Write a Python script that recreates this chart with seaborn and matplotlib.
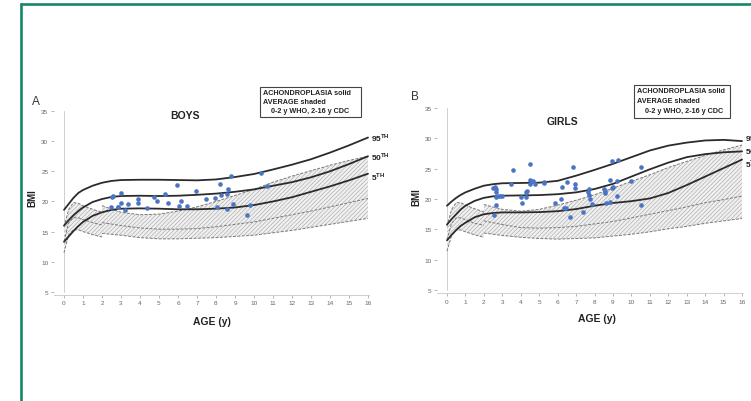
import matplotlib
matplotlib.use("Agg")
import matplotlib.pyplot as plt
import seaborn as sns
import numpy as np
import pandas as pd
from matplotlib.lines import Line2D
from matplotlib.patches import Rectangle

# ---------------- data ----------------
ach_ages = [0, 0.25, 0.5, 0.75, 1, 1.5, 2, 2.5, 3, 4, 5, 6, 7, 8, 9, 10, 11, 12, 13, 14, 15, 16]

boys_p95 = [18.6, 19.6, 20.6, 21.4, 21.9, 22.6, 23.1, 23.4, 23.55, 23.6, 23.6, 23.55, 23.5, 23.65, 24.05, 24.55, 25.3, 26.1, 27.0, 28.1, 29.3, 30.6]
boys_p50 = [16.0, 16.9, 17.7, 18.4, 19.0, 19.9, 20.4, 20.75, 20.9, 20.95, 20.9, 20.95, 21.1, 21.3, 21.6, 22.0, 22.6, 23.2, 24.0, 25.0, 26.2, 27.5]
boys_p5 = [13.3, 14.2, 15.1, 15.9, 16.6, 17.6, 18.2, 18.6, 18.8, 18.85, 18.8, 18.7, 18.7, 18.8, 19.0, 19.4, 20.0, 20.7, 21.6, 22.5, 23.5, 24.6]

girls_p95 = [18.9, 19.6, 20.2, 20.7, 21.1, 21.7, 22.2, 22.45, 22.6, 22.65, 22.7, 23.0, 23.85, 24.8, 25.8, 26.9, 28.0, 28.8, 29.3, 29.65, 29.75, 29.55]
girls_p50 = [15.8, 16.7, 17.5, 18.3, 18.9, 19.7, 20.2, 20.45, 20.55, 20.6, 20.65, 20.8, 21.1, 21.65, 22.5, 23.7, 24.9, 26.0, 26.9, 27.4, 27.7, 27.85]
girls_p5 = [13.2, 14.1, 14.9, 15.6, 16.1, 17.0, 17.5, 17.7, 17.8, 17.8, 17.85, 18.0, 18.35, 18.9, 19.35, 19.65, 20.1, 21.0, 22.3, 23.7, 25.1, 26.5]

who_ages = [0, 0.25, 0.5, 0.75, 1, 1.5, 2]
who_boys_p95 = [15.8, 18.7, 19.8, 19.7, 19.3, 18.7, 18.2]
who_boys_p50 = [13.4, 16.5, 17.3, 17.3, 17.0, 16.5, 16.1]
who_boys_p5 = [11.5, 14.5, 15.3, 15.3, 15.0, 14.5, 14.1]
who_girls_p95 = [15.5, 18.3, 19.4, 19.4, 19.0, 18.4, 17.9]
who_girls_p50 = [13.3, 16.0, 16.9, 16.9, 16.6, 16.0, 15.7]
who_girls_p5 = [11.4, 14.0, 14.9, 14.9, 14.6, 14.1, 13.7]

cdc_ages = [2, 3, 4, 5, 6, 7, 8, 9, 10, 11, 12, 13, 14, 15, 16]
cdc_boys_p95 = [19.3, 18.2, 17.8, 17.9, 18.4, 19.1, 20.0, 21.0, 22.0, 23.2, 24.2, 25.1, 26.0, 26.8, 27.5]
cdc_boys_p50 = [16.5, 16.0, 15.6, 15.4, 15.4, 15.5, 15.8, 16.2, 16.6, 17.2, 17.8, 18.4, 19.1, 19.8, 20.5]
cdc_boys_p5 = [14.7, 14.4, 14.0, 13.8, 13.8, 13.9, 14.0, 14.2, 14.4, 14.8, 15.2, 15.7, 16.2, 16.7, 17.2]
cdc_girls_p95 = [19.1, 18.3, 18.0, 18.3, 19.0, 19.8, 20.7, 21.8, 22.9, 24.0, 25.2, 26.2, 27.2, 28.1, 28.9]
cdc_girls_p50 = [16.4, 15.8, 15.3, 15.2, 15.3, 15.5, 15.9, 16.3, 16.9, 17.5, 18.1, 18.7, 19.4, 19.9, 20.5]
cdc_girls_p5 = [14.4, 14.0, 13.7, 13.5, 13.4, 13.5, 13.6, 13.9, 14.2, 14.6, 15.1, 15.5, 16.0, 16.4, 16.8]

boys_age = [2.51, 2.6, 2.47, 2.82, 2.86, 3.0, 3.0, 3.23, 3.39, 3.89, 3.89, 4.39, 4.74, 4.91, 5.32,
            5.46, 5.96, 6.05, 6.14, 6.47, 6.95, 7.46, 7.95, 8.04, 8.21, 8.25, 8.56, 8.56, 8.63,
            8.81, 8.88, 9.65, 9.79, 10.39, 10.7]
boys_bmi = [20.8, 20.9, 19.0, 19.0, 19.0, 21.4, 19.8, 18.6, 19.6, 20.4, 19.8, 18.9, 20.8, 20.0, 21.3,
            19.7, 22.7, 19.3, 20.0, 19.3, 21.7, 20.4, 20.6, 19.0, 22.9, 21.1, 21.2, 18.7, 22.0,
            24.2, 19.5, 17.8, 19.4, 24.7, 22.5]

girls_age = [2.5, 2.59, 2.68, 2.64, 2.68, 2.77, 2.89, 3.0, 2.64, 2.55, 3.49, 3.56, 4.01, 4.09, 4.3,
             4.36, 4.3, 4.48, 4.5, 4.52, 4.66, 4.76, 5.24, 5.24, 5.84, 6.17, 6.26, 6.35, 6.44, 6.53,
             6.69, 6.84, 6.94, 6.94, 7.36, 7.65, 7.68, 7.7, 7.74, 7.87, 8.52, 8.55, 8.55, 8.64, 8.82,
             8.82, 8.95, 9.28, 8.95, 9.0, 9.2, 9.22, 10.0, 10.5, 10.5]
girls_bmi = [21.8, 22.0, 21.6, 21.15, 20.4, 20.55, 20.55, 20.55, 19.0, 17.4, 22.4, 24.8, 20.3, 19.4, 21.1,
             21.4, 20.4, 23.1, 25.8, 22.5, 23.0, 22.5, 22.75, 22.6, 19.3, 20.0, 22.0, 18.5, 18.5, 22.75,
             17.0, 25.2, 22.5, 21.9, 17.9, 21.1, 21.6, 20.65, 20.0, 19.2, 21.6, 21.3, 21.0, 19.3, 19.45,
             23.1, 26.3, 26.4, 21.9, 22.0, 20.5, 23.0, 22.9, 25.2, 19.1]

x_ticks = list(range(0, 17))
y_ticks = [5, 10, 15, 20, 25, 30, 35]
legend_lines = ["ACHONDROPLASIA solid", "AVERAGE shaded", "0-2 y WHO, 2-16 y CDC"]
pct_labels = ["95", "50", "5"]

# ---------------- style ----------------
sns.set_style("white")
plt.rcParams["font.family"] = ["Liberation Sans", "DejaVu Sans"]
plt.rcParams["mathtext.fontset"] = "custom"
plt.rcParams["mathtext.rm"] = "Liberation Sans"
plt.rcParams["mathtext.bf"] = "Liberation Sans:bold"
plt.rcParams["hatch.linewidth"] = 0.3

W, H = 751, 402
fig = plt.figure(figsize=(W / 100, H / 100), dpi=100)

def fx(px):
    return px / W

def fy(py):
    return 1 - py / H

YLIM = (4.5, 35.3)
XLIM = (-0.53, 16.05)
band_face = "#efefef"
hatch_col = "#8f8f8f"
dash_col = "#7a7a7a"
line_col = "#2b2b2b"
dot_col = "#4a74c4"


def panel(rect, title, title_xy, p5, p50, p95, who, cdc, ages, bmis, label_y):
    ax = fig.add_axes(rect)
    ax.set_xlim(*XLIM)
    ax.set_ylim(*YLIM)
    # average shaded bands
    for a, (lo, mid, hi) in ((who_ages, who), (cdc_ages, cdc)):
        ax.fill_between(a, lo, hi, facecolor=band_face, edgecolor=hatch_col,
                        hatch="////////", linewidth=0, zorder=1)
        for s in (lo, mid, hi):
            sns.lineplot(x=a, y=s, ax=ax, color=dash_col, lw=0.7,
                         linestyle=(0, (3, 1.5)), zorder=2)
    # achondroplasia curves
    for s in (p5, p50, p95):
        sns.lineplot(x=ach_ages, y=s, ax=ax, color=line_col, lw=1.3, zorder=3)
    sns.scatterplot(x=ages, y=bmis, ax=ax, color=dot_col, s=11, linewidth=0, zorder=4)
    # axis cosmetics
    ax.axvline(0, ymin=(5 - YLIM[0]) / (YLIM[1] - YLIM[0]),
               ymax=(35 - YLIM[0]) / (YLIM[1] - YLIM[0]), color="#cfcfcf", lw=0.7, zorder=0)
    for sp in ("top", "right", "left"):
        ax.spines[sp].set_visible(False)
    ax.spines["bottom"].set_color("#c8c8c8")
    ax.spines["bottom"].set_linewidth(0.6)
    ax.set_xticks(x_ticks)
    ax.set_yticks(y_ticks)
    ax.tick_params(axis="both", labelsize=4.6, colors="#9a9a9a", labelcolor="#666666",
                   length=2.5, width=0.5, pad=1.5, left=True, bottom=True)
    ax.set_xlabel("")
    ax.set_ylabel("")
    ax.text(title_xy[0], title_xy[1], title, ha="center", va="center",
            fontsize=7.5, fontweight="bold", color="#222222")
    for lab, yv in zip(pct_labels, label_y):
        ax.text(16.15, yv, lab + r"$^{\mathbf{TH}}$", ha="left", va="center",
                fontsize=6, fontweight="bold", color="#222222", clip_on=False)
    return ax


# boys panel: x0=64px, 19 px/yr ; y 35 at 112px, 6.03 px/unit
bx0, bxs = 64, 19.0
by_top, bys = 112 - 0.3 * 6.03, 6.03
boys_rect = [fx(bx0 + XLIM[0] * bxs), fy(by_top + (YLIM[1] - YLIM[0]) * bys),
             (XLIM[1] - XLIM[0]) * bxs / W, (YLIM[1] - YLIM[0]) * bys / H]
panel(boys_rect, "BOYS", (6.37, 34.3), boys_p5, boys_p50, boys_p95,
      (who_boys_p5, who_boys_p50, who_boys_p95), (cdc_boys_p5, cdc_boys_p50, cdc_boys_p95),
      boys_age, boys_bmi, (30.7, 27.5, 24.2))

# girls panel: x0=447px, 18.44 px/yr ; y 35 at 109px, 6.07 px/unit
gx0, gxs = 447, 18.44
gy_top, gys = 109 - 0.3 * 6.07, 6.07
girls_rect = [fx(gx0 + XLIM[0] * gxs), fy(gy_top + (YLIM[1] - YLIM[0]) * gys),
              (XLIM[1] - XLIM[0]) * gxs / W, (YLIM[1] - YLIM[0]) * gys / H]
panel(girls_rect, "GIRLS", (6.24, 32.8), girls_p5, girls_p50, girls_p95,
      (who_girls_p5, who_girls_p50, who_girls_p95), (cdc_girls_p5, cdc_girls_p50, cdc_girls_p95),
      girls_age, girls_bmi, (30.2, 28.1, 26.0))

# panel letters, axis labels
fig.text(fx(36), fy(102), "A", fontsize=8.5, color="#333333", ha="center", va="center")
fig.text(fx(415), fy(97), "B", fontsize=8.5, color="#333333", ha="center", va="center")
fig.text(fx(32), fy(198), "BMI", fontsize=7, fontweight="bold", rotation=90,
         ha="center", va="center", color="#222222")
fig.text(fx(416), fy(197), "BMI", fontsize=7, fontweight="bold", rotation=90,
         ha="center", va="center", color="#222222")
fig.text(fx(212), fy(322), "AGE (y)", fontsize=7.5, fontweight="bold",
         ha="center", va="center", color="#222222")
fig.text(fx(597), fy(319), "AGE (y)", fontsize=7.5, fontweight="bold",
         ha="center", va="center", color="#222222")

# legend boxes
for (x0, y0, x1, y1) in ((260, 88, 361, 118), (634, 86, 730, 119)):
    fig.add_artist(Rectangle((fx(x0), fy(y1)), (x1 - x0) / W, (y1 - y0) / H,
                             transform=fig.transFigure, facecolor="white",
                             edgecolor="#444444", lw=0.8))
    lh = (y1 - y0) / 3.3
    for i, t in enumerate(legend_lines):
        xx = x0 + 3 + (8 if i == 2 else 0)
        fig.text(fx(xx), fy(y0 + 5.5 + i * lh * 1.0), t, fontsize=5.2, fontweight="bold",
                 ha="left", va="center", color="#222222")

# green frame
green = "#14876a"
fig.add_artist(Line2D([fx(21), fx(21)], [fy(4), 0], transform=fig.transFigure,
                      color=green, lw=1.9, solid_capstyle="butt"))
fig.add_artist(Line2D([fx(20), 1], [fy(5), fy(5)], transform=fig.transFigure,
                      color=green, lw=1.9, solid_capstyle="butt"))

fig.savefig("out.png", dpi=100)
